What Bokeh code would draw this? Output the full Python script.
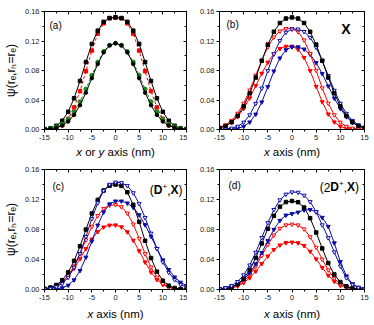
import math
from bokeh.plotting import figure
from bokeh.models import Label, LinearAxis, FixedTicker, NumeralTickFormatter, Range1d
from bokeh.layouts import column, row
from bokeh.embed import file_html
from bokeh.resources import INLINE

# ---------------- data ----------------
X = [-15.0, -13.75, -12.5, -11.25, -10.0, -8.75, -7.5, -6.25, -5.0, -3.75, -2.5, -1.25, 0.0,
     1.25, 2.5, 3.75, 5.0, 6.25, 7.5, 8.75, 10.0, 11.25, 12.5, 13.75, 15.0]

# panel (a)
A_BLACK_SQ = [.0006, .0018, .005, .0119, .024, .0423, .0658, .0915, .116, .134, .146, .151, .152,
              .151, .146, .134, .116, .0915, .0658, .0423, .024, .0119, .005, .0018, .0006]
A_RED_SQ = [.0001, .0005, .002, .0059, .0144, .030, .052, .079, .107, .130, .144, .151, .152,
            .151, .144, .130, .107, .079, .052, .030, .0144, .0059, .002, .0005, .0001]
A_BLACK_CI = [.0004, .0009, .0023, .0053, .0108, .0198, .0329, .050, .0696, .0888, .1045, .114, .117,
              .114, .1045, .0888, .0696, .050, .0329, .0198, .0108, .0053, .0023, .0009, .0004]
A_GREEN_CI = [.0006, .0016, .0036, .0074, .0139, .0239, .0377, .0548, .0736, .0914, .1058, .1144, .117,
              .1144, .1058, .0914, .0736, .0548, .0377, .0239, .0139, .0074, .0036, .0016, .0006]

# panel (b)  X
B_BLACK = [.0022, .0047, .0099, .0185, .0315, .0492, .0705, .0933, .1151, .1325, .1444, .1505, .152,
           .1505, .1444, .1325, .1151, .0933, .0705, .0492, .0315, .0185, .0099, .0047, .0022]
B_RED_OPEN = [.0027, .0061, .0122, .0218, .0355, .0533, .0735, .0938, .1118, .1253, .1334, .1367, .1367,
              .1324, .1212, .1029, .0801, .0563, .0355, .0198, .0097, .0041, .0017, .0006, .0002]
B_BLUE_OPEN = [.0002, .0006, .0017, .0041, .0097, .0197, .0353, .0560, .0797, .1024, .1206, .1317, .1360,
               .1360, .1327, .1247, .1112, .0933, .0731, .0530, .0353, .0217, .0121, .0061, .0027]
B_RED_FILL = [.0021, .0048, .0095, .0172, .0284, .0427, .0593, .0761, .0911, .1026, .1097, .1127, .1128,
              .1087, .0975, .0797, .0583, .0375, .0209, .0101, .0041, .0015, .0005, .0001, .0000]
B_BLUE_FILL = [.0000, .0001, .0005, .0015, .0041, .0100, .0207, .0372, .0579, .0791, .0968, .1079, .1120,
               .1119, .1089, .1019, .0905, .0756, .0589, .0424, .0282, .0171, .0094, .0048, .0021]

# panel (c)  (D+,X)
C_BLACK = [.0009, .0026, .0060, .0124, .0229, .0382, .0577, .0799, .1014, .1195, .1320, .1385, .140,
           .1382, .1297, .1129, .0902, .0650, .0419, .0238, .0118, .0051, .0020, .0007, .0002]
C_BLUE_OPEN = [.0005, .0013, .0034, .0078, .0160, .0294, .0479, .0705, .0943, .1155, .1318, .1401, .1430,
               .1423, .1383, .1288, .1143, .0957, .0749, .0545, .0366, .0227, .0129, .0066, .0031]
C_BLUE_FILL = [.0000, .0002, .0007, .0021, .0056, .0127, .0252, .0429, .0643, .0857, .1032, .1140, .1178,
               .1178, .1152, .1094, .0994, .0862, .0707, .0546, .0393, .0265, .0165, .0095, .0051]
C_RED_OPEN = [.0007, .0020, .0046, .0098, .0185, .0312, .0477, .0661, .0840, .0984, .1079, .1122, .1130,
              .1102, .1017, .0871, .0680, .0476, .0297, .0164, .0078, .0032, .0013, .0004, .0001]
C_RED_FILL = [.0010, .0022, .0050, .0098, .0174, .0280, .0409, .0545, .0671, .0770, .0832, .0857, .0859,
              .0834, .0767, .0656, .0514, .0365, .0232, .0131, .0065, .0028, .0012, .0004, .0001]

# panel (d)  (2D+,X)
D_BLUE_OPEN = [.0009, .0023, .0051, .0104, .0193, .0325, .0495, .0691, .0889, .1065, .1194, .1270, .1299,
               .1295, .1255, .1170, .1035, .0860, .0690, .0500, .0310, .0155, .0068, .0027, .0010]
D_BLACK = [.0004, .0012, .0030, .0070, .0144, .0261, .0422, .0614, .0811, .0982, .1104, .1166, .1180,
           .1164, .1093, .0951, .0760, .0548, .0353, .0201, .0099, .0043, .0017, .0006, .0001]
D_BLUE_FILL = [.0004, .0012, .0030, .0068, .0130, .0220, .0340, .0490, .0650, .0800, .0920, .0990, .1010,
               .1030, .1060, .1065, .1035, .0960, .0840, .0620, .0370, .0180, .0075, .0028, .0010]
D_RED_OPEN = [.0003, .0009, .0022, .0052, .0106, .0192, .0311, .0452, .0598, .0724, .0814, .0860, .0870,
              .0859, .0806, .0701, .0561, .0404, .0260, .0148, .0073, .0031, .0013, .0004, .0001]
D_RED_FILL = [.0003, .0009, .0021, .0045, .0089, .0155, .0243, .0344, .0445, .0531, .0592, .0623, .0630,
              .0622, .0584, .0508, .0406, .0292, .0188, .0107, .0053, .0023, .0009, .0003, .0001]

X_TICKS = [-15, -10, -5, 0, 5, 10, 15]
X_TICK_LABELS = ["-15", "-10", "-5", "0", "5", "10", "15"]
Y_TICKS = [0.0, 0.04, 0.08, 0.12, 0.16]
Y_TICK_LABELS = ["0.00", "0.04", "0.08", "0.12", "0.16"]

X_TITLE_A = [("x", "italic"), ("or", "normal"), ("y", "italic"), ("axis (nm)", "normal")]
X_TITLE = [("x", "italic"), ("axis (nm)", "normal")]
Y_TITLE = "\u03c8(r\u2091,r\u2095=r\u2091)"

# ---------------- styling ----------------
FONT = "Liberation Sans"
RED = "#ff0000"
BLUE = "#0c0ca8"
GREEN = "#1a8a1a"
BLACK = "#000000"

X_MINOR = [(a + b) / 2 for a, b in zip(X_TICKS[:-1], X_TICKS[1:])]
Y_MINOR = [(a + b) / 2 for a, b in zip(Y_TICKS[:-1], Y_TICKS[1:])]

EM = {"(": .333, ")": .333, ",": .278, "2": .556, "+": .584, "D": .722, "X": .667,
      "x": .5, "y": .5, "or": .889, "axis (nm)": 4.111, " ": .278}


def style_axis(ax, outer):
    ax.axis_line_color = "black"
    ax.axis_line_width = 1
    ax.major_tick_line_color = "black"
    ax.minor_tick_line_color = "black"
    if outer:
        ax.major_tick_out = 3
        ax.major_tick_in = 0
        ax.minor_tick_out = 2
        ax.minor_tick_in = 0
        ax.major_label_text_font = FONT
        ax.major_label_text_font_size = "7.5px"
        ax.major_label_text_color = "#222222"
        ax.major_label_standoff = 2
    else:
        ax.major_tick_out = 0
        ax.major_tick_in = 3
        ax.minor_tick_out = 0
        ax.minor_tick_in = 2
        ax.major_label_text_color = None
        ax.major_label_text_font_size = "1px"
        ax.major_label_standoff = 0


def panel(width, height, bl, br, bt, bb, ytitle=None):
    p = figure(width=width, height=height, x_range=Range1d(-15, 15), y_range=Range1d(0, 0.16),
               x_axis_type=None, y_axis_type=None, output_backend="svg", toolbar_location=None,
               min_border_left=bl, min_border_right=br, min_border_top=bt, min_border_bottom=bb,
               background_fill_color="white", border_fill_color="white")
    p.outline_line_color = "black"
    p.outline_line_width = 1
    for loc in ("below", "above"):
        ax = LinearAxis(ticker=FixedTicker(ticks=X_TICKS, minor_ticks=X_MINOR))
        style_axis(ax, loc == "below")
        if loc == "below":
            ax.major_label_overrides = dict(zip(X_TICKS, X_TICK_LABELS))
        p.add_layout(ax, loc)
    for loc in ("left", "right"):
        ax = LinearAxis(ticker=FixedTicker(ticks=Y_TICKS, minor_ticks=Y_MINOR),
                        formatter=NumeralTickFormatter(format="0.00"))
        style_axis(ax, loc == "left")
        if loc == "left":
            ax.major_label_overrides = dict(zip(Y_TICKS, Y_TICK_LABELS))
            if ytitle:
                ax.axis_label = ytitle
                ax.axis_label_text_font = FONT
                ax.axis_label_text_font_size = "12px"
                ax.axis_label_text_font_style = "normal"
                ax.axis_label_text_color = "black"
                ax.axis_label_standoff = 4
        p.add_layout(ax, loc)
    return p


def strip(width, height, bl, br):
    s = figure(width=width, height=height, x_range=Range1d(-15, 15), y_range=Range1d(0, 1),
               x_axis_type=None, y_axis_type=None, output_backend="svg", toolbar_location=None,
               min_border_left=bl, min_border_right=br, min_border_top=0, min_border_bottom=0,
               background_fill_color="white", border_fill_color="white")
    s.outline_line_color = None
    return s


def label(p, x, y, text, dx, dy, size, style="normal", align="left", angle=0.0):
    p.add_layout(Label(x=x, y=y, x_offset=dx, y_offset=dy, text=text, text_font=FONT,
                       text_font_size=f"{size}px", text_font_style=style, text_align=align,
                       text_baseline="middle", angle=angle, text_color="black"))


def x_title(s, pieces, dy, size=11.5):
    total = 0.0
    for i, (t, st) in enumerate(pieces):
        total += EM[t] * size + (EM[" "] * size if i < len(pieces) - 1 else 0)
    off = -total / 2
    for t, st in pieces:
        label(s, 0, 1, t, off, dy, size, style=st)
        off += EM[t] * size + EM[" "] * size


def right_run(p, pieces, inset, dy):
    total = sum(EM[t] * sz for t, sz, st, rise in pieces)
    off = -inset - total
    for t, sz, st, rise in pieces:
        label(p, 15, 0.16, t, off, dy + rise, sz, style=st)
        off += EM[t] * sz


def series(p, ys, color, marker, filled, dash="solid", size=4):
    p.line(X, ys, line_color=color, line_width=1, line_dash=dash)
    p.scatter(X, ys, marker=marker, size=size, line_color=color, line_width=1,
              fill_color=color if filled else "white")


pa = panel(187, 145, 43, 1, 11, 16, ytitle=Y_TITLE)
pb = panel(187, 145, 32, 10, 11, 16)
pc = panel(187, 143, 43, 1, 7, 16, ytitle=Y_TITLE)
pd = panel(187, 143, 32, 10, 7, 16)
ta = strip(187, 17, 43, 1)
tb = strip(187, 17, 32, 10)
tc = strip(187, 20, 43, 1)
td = strip(187, 20, 32, 10)

# (a)
series(pa, A_RED_SQ, RED, "square", True, dash="3 2", size=3.5)
series(pa, A_BLACK_SQ, BLACK, "square", True, size=3.5)
series(pa, A_GREEN_CI, GREEN, "circle", True, dash="3 2", size=4)
series(pa, A_BLACK_CI, BLACK, "circle", True, size=3.5)

# (b)
series(pb, B_RED_FILL, RED, "inverted_triangle", True)
series(pb, B_BLUE_FILL, BLUE, "inverted_triangle", True)
series(pb, B_RED_OPEN, RED, "inverted_triangle", False)
series(pb, B_BLUE_OPEN, BLUE, "inverted_triangle", False)
series(pb, B_BLACK, BLACK, "square", True, size=3.5)

# (c)
series(pc, C_RED_FILL, RED, "inverted_triangle", True)
series(pc, C_RED_OPEN, RED, "inverted_triangle", False)
series(pc, C_BLUE_FILL, BLUE, "inverted_triangle", True)
series(pc, C_BLACK, BLACK, "square", True, size=3.5)
series(pc, C_BLUE_OPEN, BLUE, "inverted_triangle", False)

# (d)
series(pd, D_RED_FILL, RED, "inverted_triangle", True)
series(pd, D_RED_OPEN, RED, "inverted_triangle", False)
series(pd, D_BLUE_FILL, BLUE, "inverted_triangle", True)
series(pd, D_BLACK, BLACK, "square", True, size=3.5)
series(pd, D_BLUE_OPEN, BLUE, "inverted_triangle", False)

# panel letters
label(pa, -15, 0.16, "(a)", 5, -13.5, 10)
label(pb, -15, 0.16, "(b)", 7, -13, 10)
label(pc, -15, 0.16, "(c)", 8, -16.5, 10)
label(pd, -15, 0.16, "(d)", 9, -16, 10)

# state labels
label(pb, 15, 0.16, "X", -14, -17, 14, style="bold", align="right")
right_run(pc, [("(", 12, "normal", 0), ("D", 12, "bold", 0), ("+", 8, "normal", 4),
               (",", 12, "normal", 0), ("X", 12, "bold", 0), (")", 12, "normal", 0)], 4, -20.5)
right_run(pd, [("(", 12, "normal", 0), ("2", 12, "normal", 0), ("D", 12, "bold", 0), ("+", 8, "normal", 4),
               (",", 12, "normal", 0), ("X", 12, "bold", 0), (")", 12, "normal", 0)], 5.5, -17.5)

# x-axis titles (in strips under each panel)
x_title(ta, X_TITLE_A, -6.7)
x_title(tb, X_TITLE, -6.7)
x_title(tc, X_TITLE, -8.7)
x_title(td, X_TITLE, -8.7)

layout = column(row(column(pa, ta), column(pb, tb)), row(column(pc, tc), column(pd, td)))
open("out.html", "w").write(file_html(layout, INLINE))
